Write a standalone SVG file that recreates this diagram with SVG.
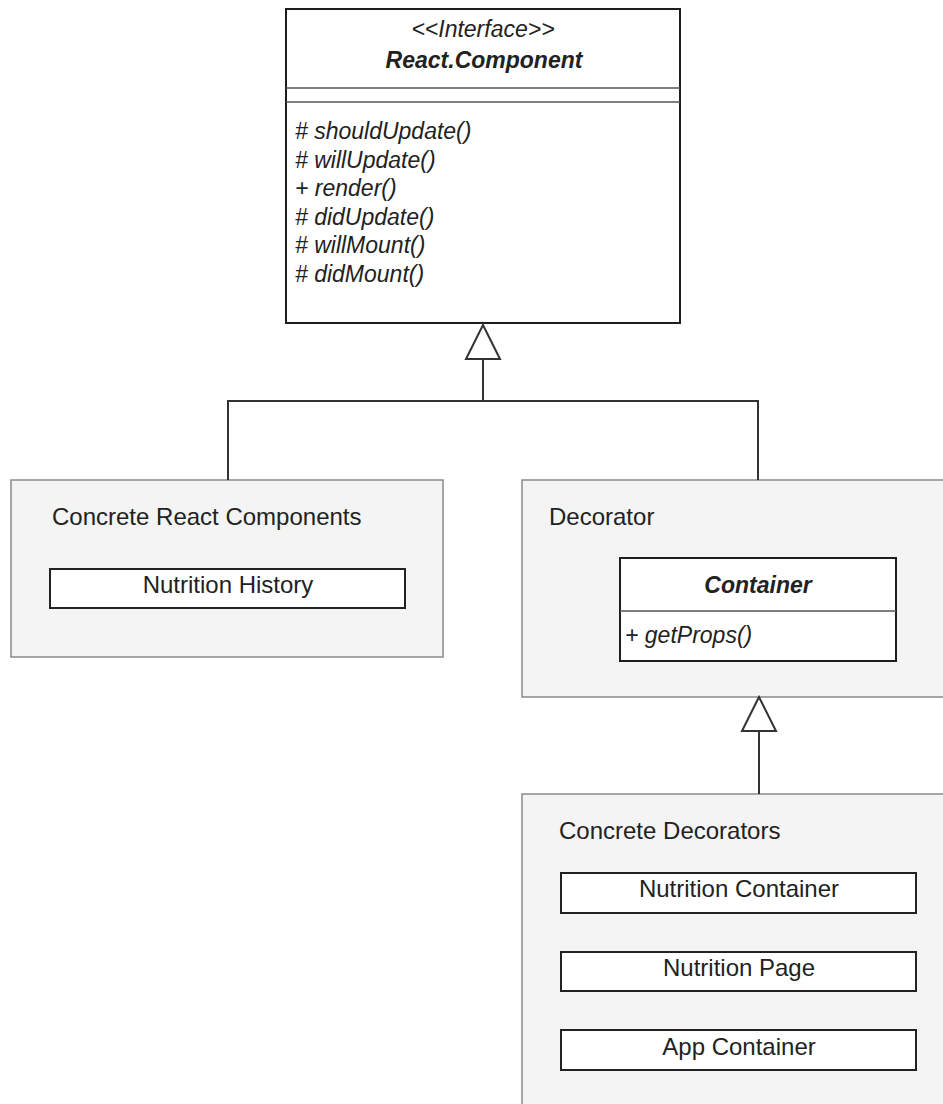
<svg xmlns="http://www.w3.org/2000/svg" width="943" height="1104" viewBox="0 0 943 1104">
  <style>
    text { font-family: "Liberation Sans", Arial, sans-serif; fill: #222; }
    .lbl { font-size: 24px; }
    .uml { font-size: 23px; font-style: italic; }
    .title { font-size: 23px; font-style: italic; font-weight: bold; }
    .mid { text-anchor: middle; }
    .group { fill: #f4f4f4; stroke: #8a8a8a; stroke-width: 1.5; }
    .cls { fill: #ffffff; stroke: #1e1e1e; stroke-width: 2; }
    .sep { stroke: #555; stroke-width: 1.5; fill: none; }
    .item { fill: #ffffff; stroke: #222; stroke-width: 2; }
    .conn { fill: none; stroke: #333; stroke-width: 2; }
  </style>
  <defs>
    <!-- hollow triangle for generalization -->
    <marker id="inherit" markerUnits="userSpaceOnUse" viewBox="0 0 34 34" refX="34" refY="17" markerWidth="34" markerHeight="34" orient="auto" overflow="visible">
      <path d="M34,17 L0,0 L0,34 Z" fill="#ffffff" stroke="#333" stroke-width="2" stroke-linejoin="miter"/>
    </marker>
  </defs>

  <rect width="943" height="1104" fill="#ffffff"/>

  <!-- interface class -->
  <g id="react-component">
    <rect class="cls" x="286" y="9" width="394" height="314"/>
    <line class="sep" x1="286" y1="88" x2="680" y2="88"/>
    <line class="sep" x1="286" y1="102" x2="680" y2="102"/>
    <text class="uml mid" x="483" y="37">&lt;&lt;Interface&gt;&gt;</text>
    <text class="title mid" x="484" y="68">React.Component</text>
    <text class="uml" x="295" y="139"># shouldUpdate()</text>
    <text class="uml" x="295" y="168"># willUpdate()</text>
    <text class="uml" x="295" y="196">+ render()</text>
    <text class="uml" x="295" y="225"># didUpdate()</text>
    <text class="uml" x="295" y="253"># willMount()</text>
    <text class="uml" x="295" y="282"># didMount()</text>
  </g>

  <!-- concrete components -->
  <g id="concrete-react-components">
    <rect class="group" x="11" y="480" width="432" height="177"/>
    <text class="lbl" x="52" y="525">Concrete React Components</text>
    <g id="nutrition-history">
      <rect class="item" x="50" y="569" width="355" height="39"/>
      <text class="lbl mid" x="228" y="593">Nutrition History</text>
    </g>
  </g>

  <!-- decorator -->
  <g id="decorator">
    <rect class="group" x="522" y="480" width="430" height="217"/>
    <text class="lbl" x="549" y="525">Decorator</text>
    <g id="container">
      <rect class="cls" x="620" y="558" width="276" height="103"/>
      <line class="sep" x1="620" y1="611" x2="896" y2="611"/>
      <text class="title mid" x="758" y="593">Container</text>
      <text class="uml" x="625" y="643">+ getProps()</text>
    </g>
  </g>

  <!-- concrete decorators -->
  <g id="concrete-decorators">
    <rect class="group" x="522" y="794" width="430" height="320"/>
    <text class="lbl" x="559" y="839">Concrete Decorators</text>
    <g id="nutrition-container">
      <rect class="item" x="561" y="873" width="355" height="40"/>
      <text class="lbl mid" x="739" y="897">Nutrition Container</text>
    </g>
    <g id="nutrition-page">
      <rect class="item" x="561" y="952" width="355" height="39"/>
      <text class="lbl mid" x="739" y="976">Nutrition Page</text>
    </g>
    <g id="app-container">
      <rect class="item" x="561" y="1030" width="355" height="40"/>
      <text class="lbl mid" x="739" y="1055">App Container</text>
    </g>
  </g>

  <!-- connectors -->
  <g id="connectors">
    <path class="conn" d="M758,480 L758,401 L483,401"/>
    <path class="conn" d="M228,480 L228,401 L483,401 L483,325" marker-end="url(#inherit)"/>
    <path class="conn" d="M759,794 L759,697" marker-end="url(#inherit)"/>
  </g>
</svg>
